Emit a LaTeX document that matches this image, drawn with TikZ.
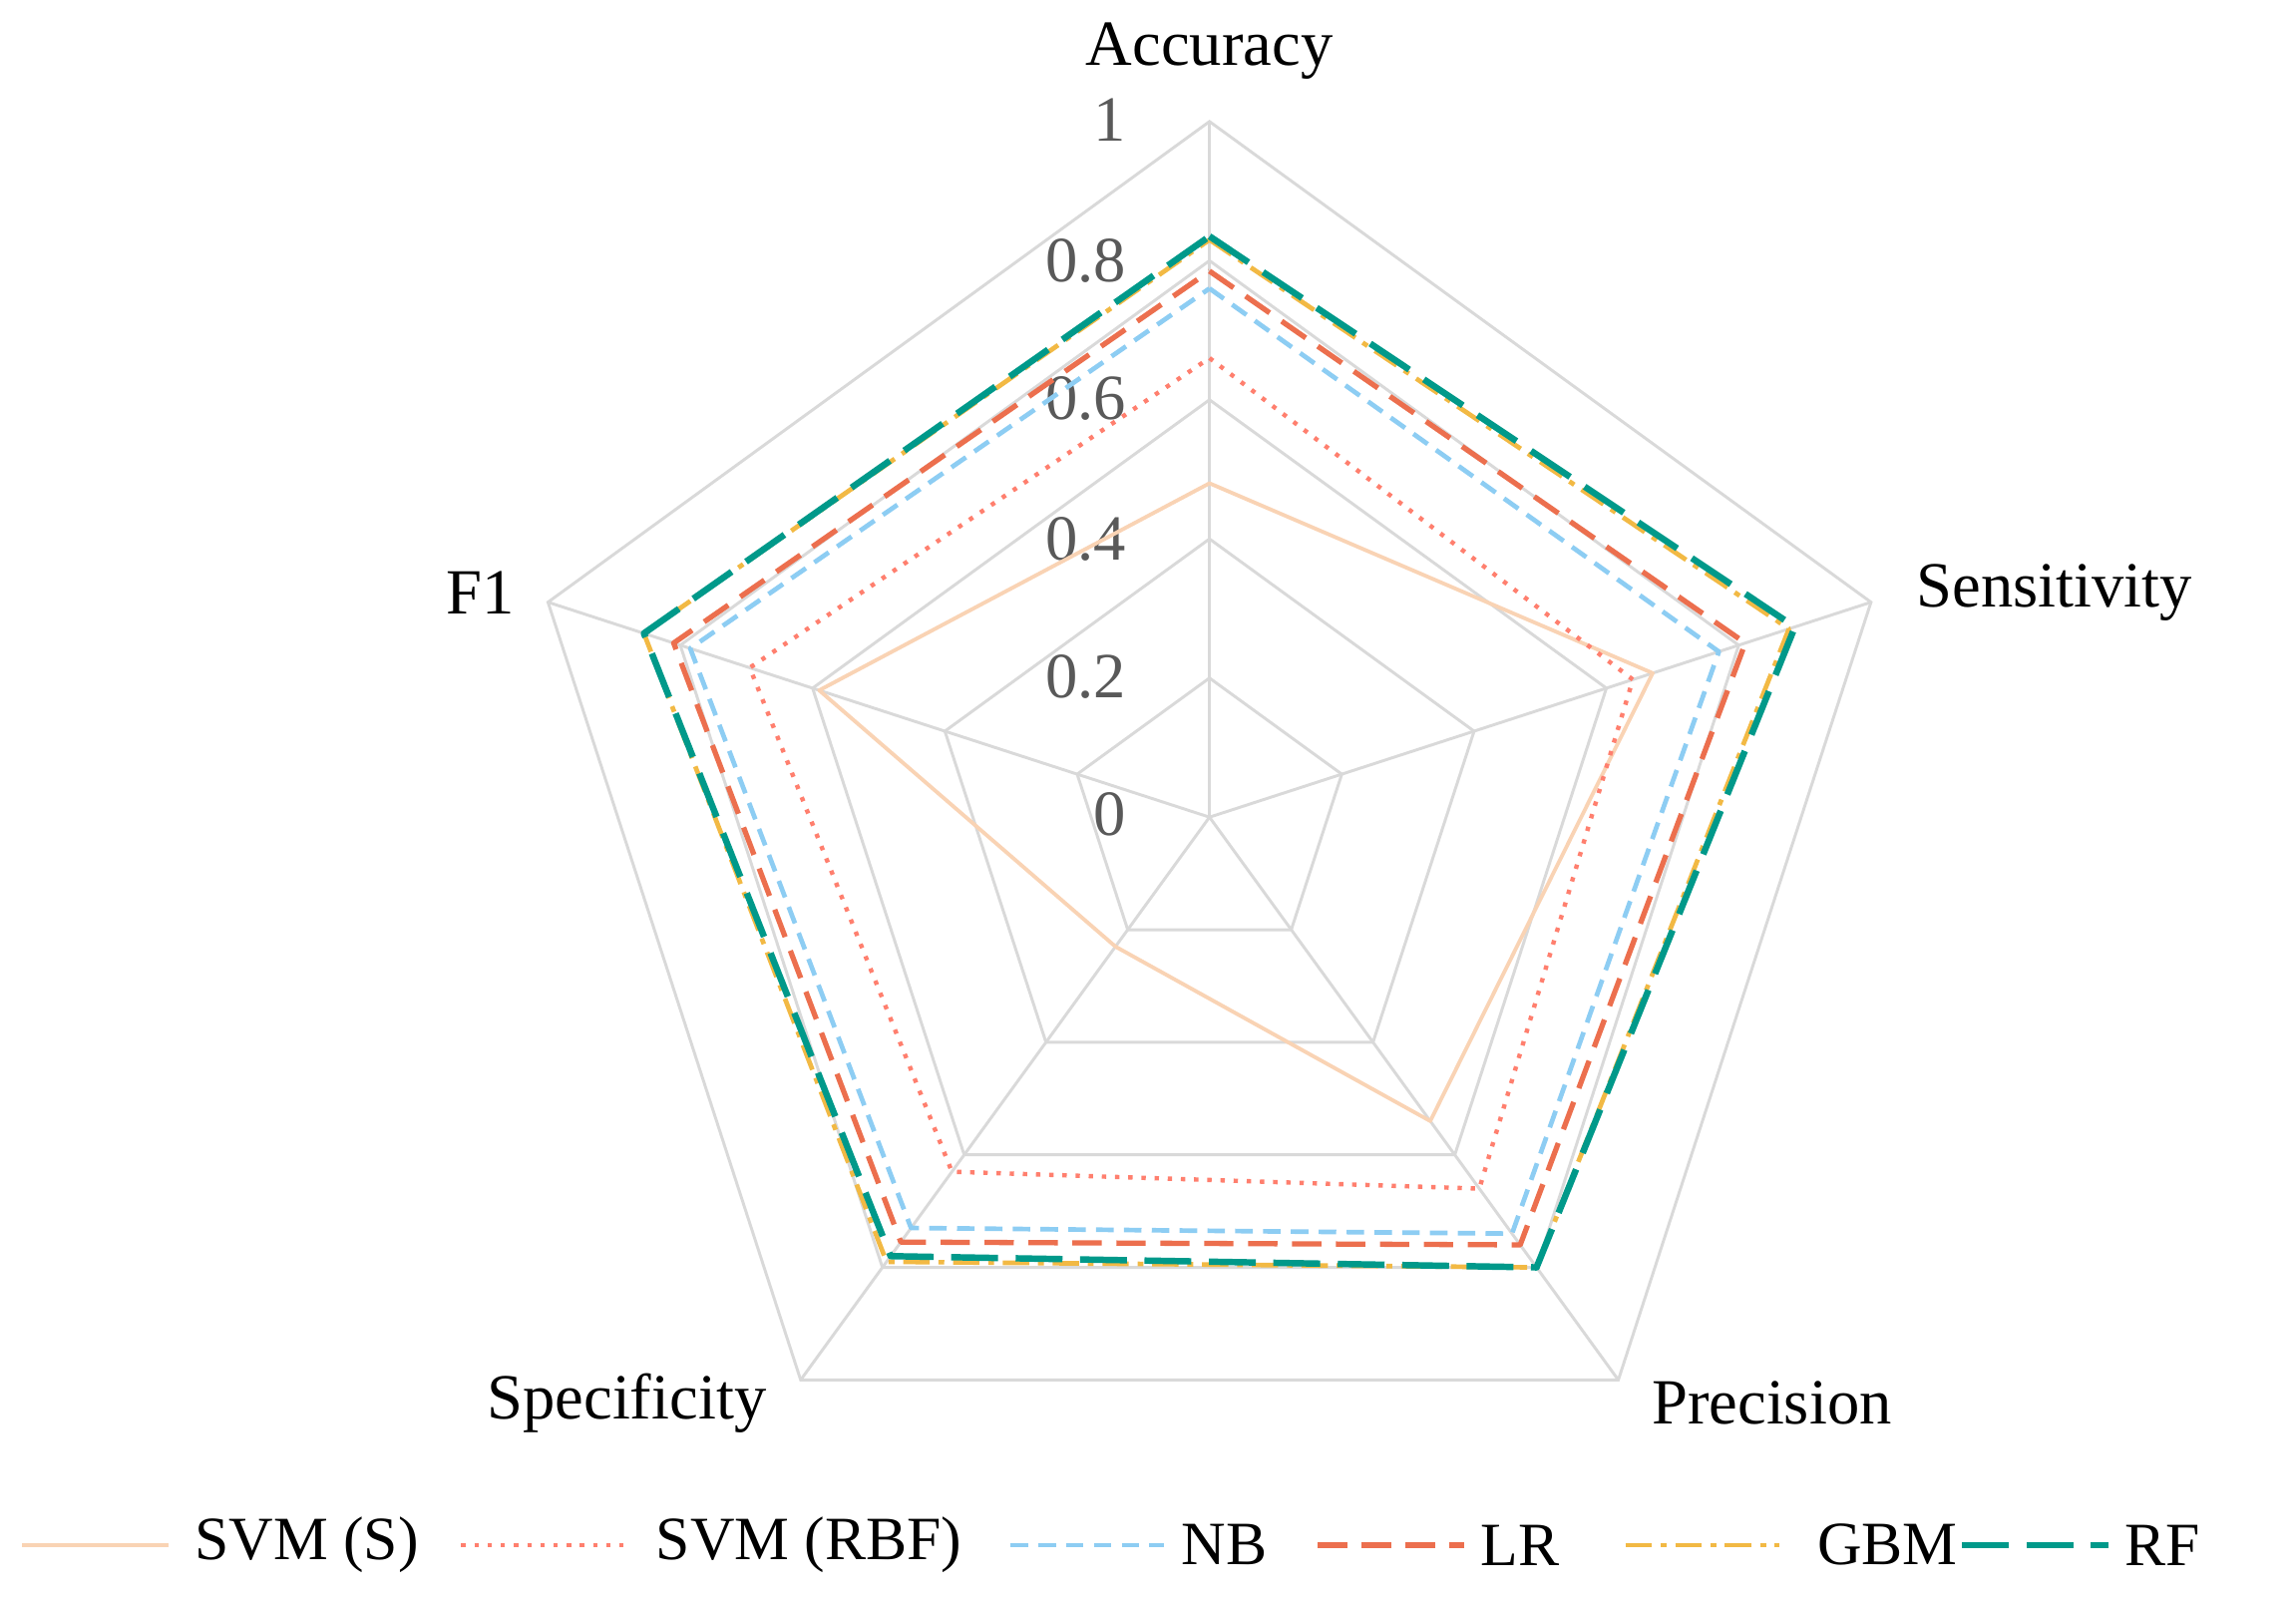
\documentclass[tikz,border=0pt]{standalone}
\usepackage{fontspec}
\setmainfont{Liberation Serif}
\definecolor{gridc}{HTML}{D9D9D9}
\definecolor{tickc}{HTML}{595959}
\definecolor{svms}{HTML}{F9D3B4}
\definecolor{svmr}{HTML}{FF7F6E}
\definecolor{nbc}{HTML}{8DCDF3}
\definecolor{lrc}{HTML}{EC6F4E}
\definecolor{gbmc}{HTML}{F2B944}
\definecolor{rfc}{HTML}{00998A}
\tikzset{
 gridline/.style={draw=gridc,line width=1pt,line join=miter},
 axlab/.style={font=\fontsize{22}{24}\selectfont,text=black},
 ticklab/.style={font=\fontsize{22}{24}\selectfont,text=tickc,anchor=east},
 legtext/.style={font=\fontsize{21}{24}\selectfont,anchor=west},
 sSVMS/.style={draw=svms,line width=1.3pt},
 sSVMR/.style={draw=svmr,line width=1.5pt,dash pattern=on 1.5pt off 3pt},
 sNB/.style={draw=nbc,line width=1.6pt,dash pattern=on 6pt off 3.5pt},
 sLR/.style={draw=lrc,line width=1.8pt,dash pattern=on 10pt off 5pt},
 sGBM/.style={draw=gbmc,line width=1.6pt,dash pattern=on 9pt off 3pt on 2pt off 3pt},
 sRF/.style={draw=rfc,line width=2.2pt,dash pattern=on 16pt off 6pt},
}
\newcommand{\radar}[6]{\draw[#1,line join=round] (90:{475*#2}) -- (18:{475*#3}) -- (-54:{475*#4}) -- (-126:{475*#5}) -- (162:{475*#6}) -- cycle;}
\begin{document}
\begin{tikzpicture}[x=0.5pt,y=0.5pt]
\useasboundingbox (-826,-538) rectangle (742,558);
\coordinate (C) at (0,0);
% grid
\foreach \r in {95,190,285,380,475}{
 \draw[gridline] (90:\r) -- (18:\r) -- (-54:\r) -- (-126:\r) -- (162:\r) -- cycle;}
\foreach \a in {90,18,-54,-126,162}{\draw[gridline] (C) -- (\a:475);}
% tick labels
\node[ticklab] (t0) at (-50,2) {0};
\node[ticklab] (t2) at (-50,96) {0.2};
\node[ticklab] (t4) at (-50,190) {0.4};
\node[ticklab] (t6) at (-50,286) {0.6};
\node[ticklab] (t8) at (-50,380) {0.8};
\node[ticklab] (t10) at (-50,476) {1};
% axis labels
\node[axlab] (acc) at (0,523) {Accuracy};
\node[axlab] (sen) at (577,153) {Sensitivity};
\node[axlab] (pre) at (384,-400) {Precision};
\node[axlab] (spe) at (-398,-400) {Specificity};
\node[axlab] (f1) at (-498,153) {F1};
% series
\radar{sSVMS}{0.48}{0.67}{0.54}{0.23}{0.59}
\radar{sSVMR}{0.66}{0.64}{0.66}{0.63}{0.695}
\radar{sNB}{0.76}{0.77}{0.74}{0.73}{0.785}
\radar{sLR}{0.785}{0.81}{0.76}{0.755}{0.81}
\radar{sGBM}{0.83}{0.876}{0.80}{0.79}{0.855}
\radar{sRF}{0.835}{0.885}{0.80}{0.78}{0.855}
% legend
\def\ly{-497}
\coordinate (l1a) at (-811,\ly); \coordinate (l1b) at (-711,\ly);
\draw[sSVMS] (l1a) -- (l1b); \node[legtext] (n1) at (-700,\ly) {SVM (S)};
\coordinate (l2a) at (-511,\ly); \coordinate (l2b) at (-396,\ly);
\draw[sSVMR] (l2a) -- (l2b); \node[legtext] (n2) at (-385,\ly) {SVM (RBF)};
\coordinate (l3a) at (-136,\ly); \coordinate (l3b) at (-31,\ly);
\draw[sNB] (l3a) -- (l3b); \node[legtext] (n3) at (-26,\ly) {NB};
\coordinate (l4a) at (74,\ly); \coordinate (l4b) at (174,\ly);
\draw[sLR] (l4a) -- (l4b); \node[legtext] (n4) at (178,\ly) {LR};
\coordinate (l5a) at (284,\ly); \coordinate (l5b) at (389,\ly);
\draw[sGBM] (l5a) -- (l5b); \node[legtext] (n5) at (408,\ly) {GBM};
\coordinate (l6a) at (514,\ly); \coordinate (l6b) at (614,\ly);
\draw[sRF] (l6a) -- (l6b); \node[legtext] (n6) at (618,\ly) {RF};
\end{tikzpicture}
\end{document}
